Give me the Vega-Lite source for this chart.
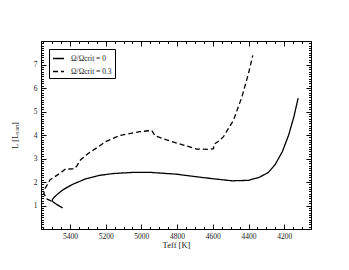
{
  "$schema": "https://vega.github.io/schema/vega-lite/v6.json",
  "width": 270,
  "height": 188,
  "autosize": "none",
  "padding": {"left": 41, "top": 41, "right": 38, "bottom": 41},
  "background": "white",
  "config": {
    "view": {"stroke": "black", "strokeWidth": 1},
    "font": "Liberation Serif",
    "axis": {
      "domainColor": "black",
      "tickColor": "black",
      "labelColor": "#222",
      "titleColor": "#222",
      "labelFont": "Liberation Serif",
      "titleFont": "Liberation Serif",
      "labelFontSize": 7.5,
      "titleFontSize": 8.5,
      "titleFontWeight": "normal",
      "grid": false
    }
  },
  "data": {
    "values": [
      {"rot": "Ω/Ωcrit = 0", "i": 0, "T": 5441, "L": 0.90},
      {"rot": "Ω/Ωcrit = 0", "i": 1, "T": 5475, "L": 1.05},
      {"rot": "Ω/Ωcrit = 0", "i": 2, "T": 5500, "L": 1.18},
      {"rot": "Ω/Ωcrit = 0", "i": 3, "T": 5497, "L": 1.27},
      {"rot": "Ω/Ωcrit = 0", "i": 4, "T": 5485, "L": 1.38},
      {"rot": "Ω/Ωcrit = 0", "i": 5, "T": 5441, "L": 1.66},
      {"rot": "Ω/Ωcrit = 0", "i": 6, "T": 5385, "L": 1.90},
      {"rot": "Ω/Ωcrit = 0", "i": 7, "T": 5310, "L": 2.14},
      {"rot": "Ω/Ωcrit = 0", "i": 8, "T": 5236, "L": 2.28},
      {"rot": "Ω/Ωcrit = 0", "i": 9, "T": 5157, "L": 2.36},
      {"rot": "Ω/Ωcrit = 0", "i": 10, "T": 5045, "L": 2.41},
      {"rot": "Ω/Ωcrit = 0", "i": 11, "T": 4950, "L": 2.41},
      {"rot": "Ω/Ωcrit = 0", "i": 12, "T": 4800, "L": 2.33},
      {"rot": "Ω/Ωcrit = 0", "i": 13, "T": 4700, "L": 2.23},
      {"rot": "Ω/Ωcrit = 0", "i": 14, "T": 4600, "L": 2.14},
      {"rot": "Ω/Ωcrit = 0", "i": 15, "T": 4491, "L": 2.05},
      {"rot": "Ω/Ωcrit = 0", "i": 16, "T": 4400, "L": 2.07},
      {"rot": "Ω/Ωcrit = 0", "i": 17, "T": 4340, "L": 2.20},
      {"rot": "Ω/Ωcrit = 0", "i": 18, "T": 4290, "L": 2.40},
      {"rot": "Ω/Ωcrit = 0", "i": 19, "T": 4250, "L": 2.75},
      {"rot": "Ω/Ωcrit = 0", "i": 20, "T": 4210, "L": 3.30},
      {"rot": "Ω/Ωcrit = 0", "i": 21, "T": 4175, "L": 4.00},
      {"rot": "Ω/Ωcrit = 0", "i": 22, "T": 4145, "L": 4.80},
      {"rot": "Ω/Ωcrit = 0", "i": 23, "T": 4122, "L": 5.57},
      {"rot": "Ω/Ωcrit = 0.3", "i": 0, "T": 5505, "L": 1.20},
      {"rot": "Ω/Ωcrit = 0.3", "i": 1, "T": 5531, "L": 1.28},
      {"rot": "Ω/Ωcrit = 0.3", "i": 2, "T": 5546, "L": 1.52},
      {"rot": "Ω/Ωcrit = 0.3", "i": 3, "T": 5540, "L": 1.71},
      {"rot": "Ω/Ωcrit = 0.3", "i": 4, "T": 5512, "L": 2.09},
      {"rot": "Ω/Ωcrit = 0.3", "i": 5, "T": 5456, "L": 2.37},
      {"rot": "Ω/Ωcrit = 0.3", "i": 6, "T": 5425, "L": 2.55},
      {"rot": "Ω/Ωcrit = 0.3", "i": 7, "T": 5375, "L": 2.56},
      {"rot": "Ω/Ωcrit = 0.3", "i": 8, "T": 5360, "L": 2.70},
      {"rot": "Ω/Ωcrit = 0.3", "i": 9, "T": 5340, "L": 2.95},
      {"rot": "Ω/Ωcrit = 0.3", "i": 10, "T": 5300, "L": 3.20},
      {"rot": "Ω/Ωcrit = 0.3", "i": 11, "T": 5241, "L": 3.50},
      {"rot": "Ω/Ωcrit = 0.3", "i": 12, "T": 5200, "L": 3.72},
      {"rot": "Ω/Ωcrit = 0.3", "i": 13, "T": 5120, "L": 3.98},
      {"rot": "Ω/Ωcrit = 0.3", "i": 14, "T": 5008, "L": 4.14},
      {"rot": "Ω/Ωcrit = 0.3", "i": 15, "T": 4961, "L": 4.18},
      {"rot": "Ω/Ωcrit = 0.3", "i": 16, "T": 4942, "L": 4.20},
      {"rot": "Ω/Ωcrit = 0.3", "i": 17, "T": 4930, "L": 4.05},
      {"rot": "Ω/Ωcrit = 0.3", "i": 18, "T": 4922, "L": 3.96},
      {"rot": "Ω/Ωcrit = 0.3", "i": 19, "T": 4858, "L": 3.79},
      {"rot": "Ω/Ωcrit = 0.3", "i": 20, "T": 4764, "L": 3.57},
      {"rot": "Ω/Ωcrit = 0.3", "i": 21, "T": 4690, "L": 3.40},
      {"rot": "Ω/Ωcrit = 0.3", "i": 22, "T": 4620, "L": 3.39},
      {"rot": "Ω/Ωcrit = 0.3", "i": 23, "T": 4596, "L": 3.42},
      {"rot": "Ω/Ωcrit = 0.3", "i": 24, "T": 4594, "L": 3.60},
      {"rot": "Ω/Ωcrit = 0.3", "i": 25, "T": 4570, "L": 3.72},
      {"rot": "Ω/Ωcrit = 0.3", "i": 26, "T": 4540, "L": 3.93},
      {"rot": "Ω/Ωcrit = 0.3", "i": 27, "T": 4484, "L": 4.63},
      {"rot": "Ω/Ωcrit = 0.3", "i": 28, "T": 4437, "L": 5.62},
      {"rot": "Ω/Ωcrit = 0.3", "i": 29, "T": 4400, "L": 6.62},
      {"rot": "Ω/Ωcrit = 0.3", "i": 30, "T": 4376, "L": 7.39}
    ]
  },
  "layer": [
    {
      "mark": {"type": "line", "strokeWidth": 1.3, "color": "black"},
      "encoding": {
        "x": {
          "field": "T", "type": "quantitative",
          "scale": {"domain": [4050, 5562], "reverse": true, "nice": false, "zero": false},
          "axis": {
            "orient": "bottom",
            "title": "Teff [K]",
            "titlePadding": -2,
            "values": [4100,4150,4200,4250,4300,4350,4400,4450,4500,4550,4600,4650,4700,4750,4800,4850,4900,4950,5000,5050,5100,5150,5200,5250,5300,5350,5400,5450,5500,5550],
            "labelExpr": "datum.value % 200 === 0 ? datum.value : ''",
            "tickSize": {"condition": {"test": "datum.value % 200 === 0", "value": -5}, "value": -2.5},
            "labelPadding": 8,
            "labelFlush": false,
            "labelOverlap": false
          }
        },
        "y": {
          "field": "L", "type": "quantitative",
          "scale": {"domain": [0, 8], "nice": false, "zero": false},
          "axis": {
            "orient": "left",
            "title": "L [Lₛᵤₙ]",
            "titlePadding": 14,
            "values": [0.1,0.2,0.3,0.4,0.5,0.6,0.7,0.8,0.9,1,1.1,1.2,1.3,1.4,1.5,1.6,1.7,1.8,1.9,2,2.1,2.2,2.3,2.4,2.5,2.6,2.7,2.8,2.9,3,3.1,3.2,3.3,3.4,3.5,3.6,3.7,3.8,3.9,4,4.1,4.2,4.3,4.4,4.5,4.6,4.7,4.8,4.9,5,5.1,5.2,5.3,5.4,5.5,5.6,5.7,5.8,5.9,6,6.1,6.2,6.3,6.4,6.5,6.6,6.7,6.8,6.9,7,7.1,7.2,7.3,7.4,7.5,7.6,7.7,7.8,7.9],
            "labelExpr": "datum.value % 1 === 0 ? datum.value : ''",
            "tickSize": {"condition": {"test": "datum.value % 1 === 0", "value": -5}, "value": -2.5},
            "labelPadding": 9,
            "labelFlush": false,
            "labelOverlap": false
          }
        },
        "order": {"field": "i", "type": "quantitative"},
        "strokeDash": {
          "field": "rot", "type": "nominal",
          "scale": {"domain": ["Ω/Ωcrit = 0", "Ω/Ωcrit = 0.3"], "range": [[1, 0], [5, 3]]},
          "legend": {
            "title": null,
            "orient": "top-left",
            "offset": 8,
            "strokeColor": "black",
            "padding": 3,
            "labelFont": "Liberation Serif",
            "labelFontSize": 7.5,
            "labelColor": "#222",
            "labelOffset": 6,
            "symbolType": "stroke",
            "symbolStrokeWidth": 1.3,
            "symbolStrokeColor": "black",
            "symbolSize": 121,
            "rowPadding": 3
          }
        }
      }
    },
    {
      "mark": {"type": "line", "strokeOpacity": 0},
      "encoding": {
        "x": {
          "field": "T", "type": "quantitative",
          "axis": {
            "orient": "top",
            "title": null,
            "labels": false,
            "values": [4100,4150,4200,4250,4300,4350,4400,4450,4500,4550,4600,4650,4700,4750,4800,4850,4900,4950,5000,5050,5100,5150,5200,5250,5300,5350,5400,5450,5500,5550],
            "tickSize": {"condition": {"test": "datum.value % 200 === 0", "value": -5}, "value": -2.5}
          }
        },
        "y": {
          "field": "L", "type": "quantitative",
          "axis": {
            "orient": "right",
            "title": null,
            "labels": false,
            "values": [0.1,0.2,0.3,0.4,0.5,0.6,0.7,0.8,0.9,1,1.1,1.2,1.3,1.4,1.5,1.6,1.7,1.8,1.9,2,2.1,2.2,2.3,2.4,2.5,2.6,2.7,2.8,2.9,3,3.1,3.2,3.3,3.4,3.5,3.6,3.7,3.8,3.9,4,4.1,4.2,4.3,4.4,4.5,4.6,4.7,4.8,4.9,5,5.1,5.2,5.3,5.4,5.5,5.6,5.7,5.8,5.9,6,6.1,6.2,6.3,6.4,6.5,6.6,6.7,6.8,6.9,7,7.1,7.2,7.3,7.4,7.5,7.6,7.7,7.8,7.9],
            "tickSize": {"condition": {"test": "datum.value % 1 === 0", "value": -5}, "value": -2.5}
          }
        },
        "order": {"field": "i", "type": "quantitative"},
        "detail": {"field": "rot", "type": "nominal"}
      }
    }
  ],
  "resolve": {"axis": {"x": "independent", "y": "independent"}}
}
